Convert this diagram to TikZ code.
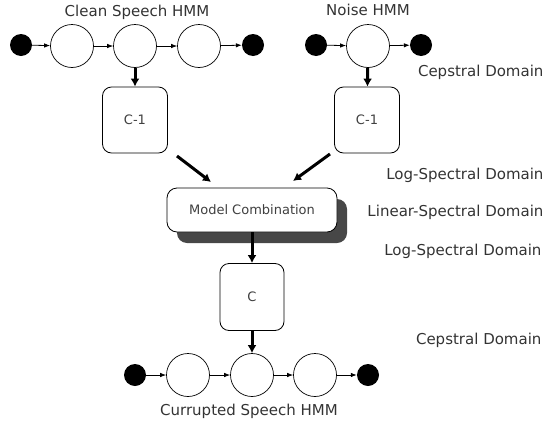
\documentclass[tikz,border=0pt]{standalone}
\usepackage{fontspec}
\setmainfont{DejaVu Sans}
\usetikzlibrary{arrows.meta,shadows}
\begin{document}
\begin{tikzpicture}[x=1pt,y=-1pt,
  hmmstate/.style={circle,draw,line width=0.7pt,minimum size=43pt,inner sep=0pt},
  term/.style={circle,fill=black,minimum size=22pt,inner sep=0pt},
  opbox/.style={draw,fill=white,rounded corners=9pt,line width=0.8pt,minimum width=65pt,minimum height=66pt,inner sep=0pt,text=black!75,font=\fontsize{13}{15}\selectfont},
  hmmarrow/.style={-{Latex[length=6pt,width=4.5pt]},line width=0.8pt},
  bigarrow/.style={-{Latex[length=8pt,width=9pt]},line width=3pt},
  hmmtitle/.style={text=black!80,font=\fontsize{15}{18}\selectfont},
  domlabel/.style={anchor=east,text=black!80,font=\fontsize{15}{18}\selectfont}]
\useasboundingbox (0,0) rectangle (549,426);

% Clean speech HMM
\node[hmmtitle] (tclean) at (137,12) {Clean Speech HMM};
\node[term] (d1) at (21,45) {};
\node[hmmstate] (s1) at (72,46) {};
\node[hmmstate] (s2) at (135,46) {};
\node[hmmstate] (s3) at (199,46) {};
\node[term] (d2) at (253,45) {};
\draw[hmmarrow] (d1) -- (s1);
\draw[hmmarrow] (s1) -- (s2);
\draw[hmmarrow] (s2) -- (s3);
\draw[hmmarrow] (s3) -- (d2);

% Noise HMM
\node[hmmtitle] (tnoise) at (368,10) {Noise HMM};
\node[term] (n0) at (316,45) {};
\node[hmmstate] (n1) at (368,46) {};
\node[term] (n2) at (421,45) {};
\draw[hmmarrow] (n0) -- (n1);
\draw[hmmarrow] (n1) -- (n2);

% inverse cepstral boxes
\node[opbox] (c1a) at (135,120) {C-1};
\node[opbox] (c1b) at (367,120) {C-1};
\draw[bigarrow] (s2) -- (c1a);
\draw[bigarrow] (n1) -- (c1b);

% model combination
\node[opbox,minimum width=170pt,minimum height=44pt,rounded corners=10pt,
  drop shadow={shadow xshift=10pt,shadow yshift=-11pt,fill=black!72,opacity=1}]
  (mc) at (252,210) {Model Combination};
\coordinate (a1s) at (177,156);
\coordinate (a1e) at (211,182);
\coordinate (a2s) at (330,154);
\coordinate (a2e) at (293,181);
\draw[bigarrow] (a1s) -- (a1e);
\draw[bigarrow] (a2s) -- (a2e);

% cepstral box
\node[opbox,minimum height=67pt,minimum width=64pt] (cb) at (252,297) {C};
\draw[bigarrow] (mc) -- (cb);

% Corrupted speech HMM
\node[term] (b0) at (135,375) {};
\node[hmmstate] (b1) at (188,375) {};
\node[hmmstate] (b2) at (252,375) {};
\node[hmmstate] (b3) at (315,375) {};
\node[term] (b4) at (368,375) {};
\draw[hmmarrow] (b0) -- (b1);
\draw[hmmarrow] (b1) -- (b2);
\draw[hmmarrow] (b2) -- (b3);
\draw[hmmarrow] (b3) -- (b4);
\draw[bigarrow] (cb) -- (b2);
\node[hmmtitle] (tcorr) at (249,411) {Currupted Speech HMM};

% domain labels
\node[domlabel] (dom1) at (547,72) {Cepstral Domain};
\node[domlabel] (dom2) at (547,175) {Log-Spectral Domain};
\node[domlabel] (dom3) at (547,212) {Linear-Spectral Domain};
\node[domlabel] (dom4) at (545,251) {Log-Spectral Domain};
\node[domlabel] (dom5) at (545,340) {Cepstral Domain};
\end{tikzpicture}
\end{document}
